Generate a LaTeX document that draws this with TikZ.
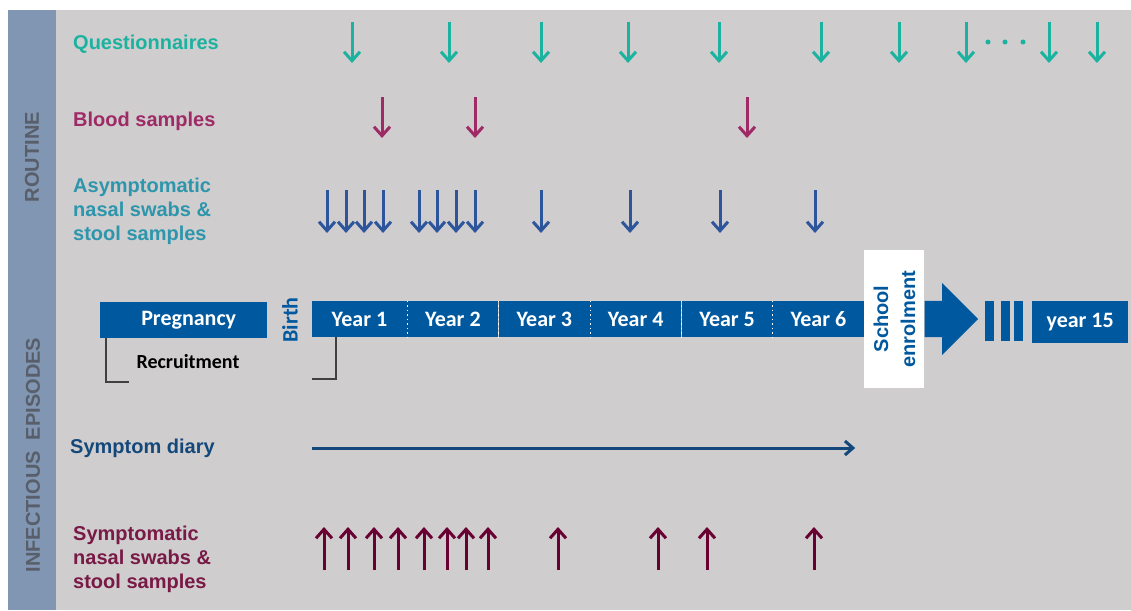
\documentclass[tikz,border=0pt]{standalone}
\usepackage{fontspec}
\setmainfont{Liberation Sans}
\newfontfamily\carlito{Carlito}
\usepackage{tikz}
\usetikzlibrary{arrows.meta,positioning}

\definecolor{bgGray}{RGB}{207,205,206}
\definecolor{sideBlue}{RGB}{128,150,178}
\definecolor{sideText}{RGB}{88,94,106}
\definecolor{qTeal}{RGB}{28,178,160}
\definecolor{bloodRed}{RGB}{158,42,102}
\definecolor{asymTeal}{RGB}{45,150,172}
\definecolor{asymBlue}{RGB}{45,85,155}
\definecolor{sympRed}{RGB}{105,0,50}
\definecolor{diaryBlue}{RGB}{20,72,122}
\definecolor{lineBlue}{RGB}{0,88,158}

\begin{document}
\begin{tikzpicture}[x=1pt, y=-1pt,
		lbl/.style={anchor=west, align=left, inner sep=0pt, font=\fontsize{20}{24}\selectfont\bfseries},
		side/.style={rotate=90, text=sideText, font=\fontsize{20}{24}\selectfont\bfseries},
		year/.style={fill=lineBlue, text=white, minimum height=36pt, minimum width=91pt, inner sep=0pt, font=\carlito\fontsize{22}{26}\selectfont\bfseries},
		downarr/.style={line width=3pt, -{Straight Barb[length=9pt,width=16pt]}},
		bracket/.style={draw=black!75, line width=1.5pt}]

	\useasboundingbox (0,0) rectangle (1131,610);
	\fill[bgGray] (8,10) rectangle (1131,610);
	\fill[sideBlue] (8,10) rectangle (56,610);
	\node[side] (routine) at (32,157) {ROUTINE};
	\node[side] (infect) at (33,455) {INFECTIOUS\ \ EPISODES};

	% row labels
	\node[lbl, text=qTeal] (quest) at (73,44) {Questionnaires};
	\node[lbl, text=bloodRed] (blood) at (73,121) {Blood samples};
	\node[lbl, text=asymTeal] (asym) at (73,211) {Asymptomatic\\nasal swabs \&\\stool samples};
	\node[lbl, text=diaryBlue] (diary) at (70,448) {Symptom diary};
	\node[lbl, text=sympRed!90!white] (symp) at (73,559) {Symptomatic\\nasal swabs \&\\stool samples};

	% timeline
	\node[year, minimum width=167pt, anchor=west] (preg) at (100,320) {\hspace*{10pt}Pregnancy};
	\node[rotate=90, text=lineBlue, font=\carlito\fontsize{22}{26}\selectfont\bfseries] (birth) at (290,320) {Birth};
	\node[year, minimum width=95pt] (y1) at (359.5,319) {Year 1};
	\node[year, right=0pt of y1] (y2) {Year 2};
	\node[year, right=0pt of y2] (y3) {Year 3};
	\node[year, right=0pt of y3] (y4) {Year 4};
	\node[year, right=0pt of y4] (y5) {Year 5};
	\node[year, right=0pt of y5] (y6) {Year 6};
	\foreach \a in {y1,y2,y3,y4,y5}
		\draw[white, line width=1pt, dash pattern=on 1.5pt off 3pt] (\a.north east) -- (\a.south east);
	\node[fill=white, minimum width=60pt, minimum height=138pt, inner sep=0pt, right=0pt of y6] (school) {};
	\node[rotate=90, align=center, text=lineBlue, font=\fontsize{20}{27}\selectfont\bfseries] (schooltxt) at (school.center) {School\\enrolment};
	\coordinate (tip) at (978,319);
	\fill[lineBlue] (school.east |- y6.north) -- (942,301) -- (942,283) -- (tip) -- (942,355) -- (942,337) -- (school.east |- y6.south) -- cycle;
	\foreach \x in {985,1001,1014}
		\fill[lineBlue] (\x,301) rectangle ++(9,40);
	\node[year, minimum width=96pt, minimum height=42pt, anchor=west] (y15) at (1032,322) {year 15};

	\draw[bracket] (preg.south west) ++(6,0) -- ++(0,44) -- ++(23,0);
	\draw[bracket] ([xshift=24pt]y1.south west) -- ++(0,42) -- ++(-24,0);
	\node[font=\carlito\fontsize{20}{24}\selectfont\bfseries] (recruit) at (188,362) {Recruitment};

	% arrows
	\foreach \x [count=\i] in {352,449,541,628,719,821,899,966,1049,1097} {
		\coordinate (q\i a) at (\x,22); \coordinate (q\i b) at (\x,63);
		\draw[downarr, qTeal] (q\i a) -- (q\i b);
	}
	\foreach \x in {988,1005,1023}
		\fill[qTeal] (\x,42) circle (2.5pt);
	\foreach \x [count=\i] in {382,475,747} {
		\coordinate (b\i a) at (\x,97); \coordinate (b\i b) at (\x,138);
		\draw[downarr, bloodRed] (b\i a) -- (b\i b);
	}
	\foreach \x [count=\i] in {327,346,364,383,419,437,456,475,541,630,720,815} {
		\coordinate (a\i a) at (\x,190); \coordinate (a\i b) at (\x,233);
		\draw[downarr, asymBlue] (a\i a) -- (a\i b);
	}
	\foreach \x [count=\i] in {324,348,374,398,424,447,466,488,558,658,707,814} {
		\coordinate (s\i a) at (\x,570); \coordinate (s\i b) at (\x,527);
		\draw[downarr, sympRed] (s\i a) -- (s\i b);
	}
	\draw[diaryBlue, line width=3pt, -{Straight Barb[length=8pt,width=14pt]}] (diary.east -| y1.west) -- ([xshift=-9pt]diary.east -| y6.east);

\end{tikzpicture}
\end{document}
